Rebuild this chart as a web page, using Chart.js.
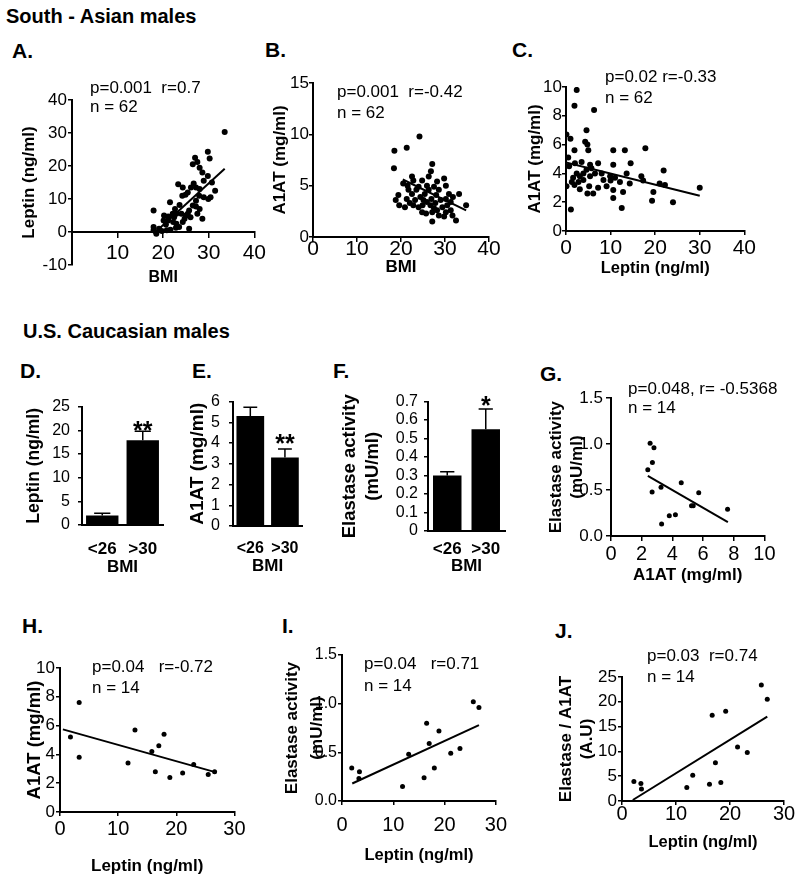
<!DOCTYPE html>
<html><head><meta charset="utf-8">
<script src="https://cdn.jsdelivr.net/npm/chart.js@4.4.1/dist/chart.umd.min.js"></script>
<style>
html,body{margin:0;padding:0;background:#fff;}
body{width:800px;height:882px;position:relative;overflow:hidden;font-family:'Liberation Sans',Arial,Helvetica,sans-serif;color:#000;}
canvas{position:absolute;}
.t{position:absolute;white-space:pre;line-height:1.15;}
</style></head>
<body>
<script>
// ---------------- DATA ----------------
// Panel A: South-Asian males, BMI vs Leptin (ng/ml)
const bmiA = [33.5,29.8,30.2,27.0,27.5,26.5,28.0,28.6,29.8,23.3,26.7,27.2,28.0,31.4,25.4,24.2,24.9,28.9,29.9,30.4,27.2,21.5,23.6,22.6,22.9,25.7,27.2,28.0,27.5,28.6,17.9,26.0,25.0,20.1,21.1,20.6,22.2,22.9,23.5,22.8,25.7,17.9,18.5,19.7,20.8,21.6,24.3,24.7,24.0,22.1,22.4,26.5,27.9,26.1,24.3,30.7,28.9,20.2,21.1,19.1,17.9,25.4];
const leptinA = [30.3,24.3,22.3,22.5,21.2,20.5,19.5,18.0,17.0,14.5,14.7,13.5,13.0,12.5,12.0,11.0,11.3,10.5,10.0,10.5,9.5,9.0,8.2,7.0,5.5,6.5,7.7,7.0,5.5,4.0,6.5,4.5,5.0,3.5,3.5,2.3,3.0,2.5,1.5,1.3,1.0,0.5,-0.5,0.3,0.5,0.7,3.0,4.0,5.5,5.5,4.5,8.0,11.0,13.5,13.5,15.0,15.5,5.0,4.7,1.0,1.5,5.5];
const trendA_x = [17.9, 33.5];
const trendA_y = [-0.5, 19.2];

// Panel B: BMI vs A1AT (mg/ml)
const bmiB = [18.4,18.5,21.3,24.2,18.8,19.6,27.1,26.8,29.8,27.1,32.5,34.8,22.5,22.8,20.5,21.5,24.8,25.9,24.0,23.5,22.5,21.3,22.0,23.2,24.4,25.4,26.3,27.5,28.6,28.0,26.9,25.9,24.9,24.0,26.7,27.8,29.0,30.2,30.9,33.2,31.3,29.4,28.2,27.1,30.2,31.3,28.6,25.7,22.8,20.9,24.8,29.8,31.7,26.3,28.2,30.2,21.7,19.4,25.1,27.5,30.5,31.8];
const a1atB = [6.7,8.4,8.7,9.8,3.6,3.1,7.1,6.4,5.7,1.5,1.6,3.1,5.9,5.5,5.2,5.0,5.5,5.0,4.9,4.6,4.2,3.7,3.3,3.6,3.9,4.2,4.6,4.9,4.6,4.1,3.7,3.4,3.1,2.9,3.1,3.3,3.6,3.7,4.2,4.2,3.4,2.9,2.6,2.4,2.4,2.6,2.1,2.3,3.1,2.9,2.4,2.0,2.1,5.9,5.4,5.0,4.6,4.1,3.6,2.8,3.1,3.9];
const trendB_x = [20.4, 34.8];
const trendB_y = [5.6, 2.6];

// Panel C: Leptin vs A1AT
const leptinC = [2.4,1.9,6.3,0.1,1.0,4.6,4.3,4.8,1.9,5.0,0.5,17.8,10.6,13.2,1.1,12.5,24.0,19.3,30.0,21.9,14.5,10.6,3.5,5.4,7.2,2.4,3.1,3.9,1.6,0.1,1.9,3.1,4.8,6.1,7.2,6.5,5.4,9.9,10.0,11.0,12.1,10.6,10.6,12.8,13.6,14.3,16.9,17.3,19.6,21.0,22.2,1.3,2.8,3.9,4.6,5.7,8.0,8.4,2.0,0.7,5.2,9.1];
const a1atC = [9.8,8.7,8.4,6.7,6.4,7.0,6.2,6.0,5.6,5.6,5.1,5.75,5.6,5.6,1.5,1.6,2.0,2.1,3.0,4.2,4.7,4.6,4.8,4.6,4.7,4.0,3.8,4.0,3.7,3.1,3.2,2.9,2.6,2.6,3.0,4.0,3.8,3.8,3.5,3.7,3.4,2.85,2.3,2.7,4.0,3.3,3.8,3.5,2.7,3.3,3.2,3.4,3.4,3.55,4.25,4.35,4.0,3.55,4.7,4.5,3.1,3.1];
const trendC_x = [0, 30];
const trendC_y = [4.76, 2.45];

// Panels D-F: U.S. Caucasian males, BMI groups
const bmiGroups = ['<26', '>30'];
const leptinMeans = [2.0, 17.9];
const leptinErr = [0.5, 1.9];
const leptinStars = ['', '**'];
const a1atMeans = [5.3, 3.3];
const a1atErr = [0.43, 0.41];
const a1atStars = ['', '**'];
const elastaseMeans = [0.30, 0.55];
const elastaseErr = [0.02, 0.11];
const elastaseStars = ['', '*'];

// Panel G: A1AT vs Elastase activity
const a1atG = [2.55,2.8,2.7,2.4,2.68,3.26,4.58,5.72,5.25,5.36,7.6,3.8,4.2,3.3];
const elastaseG = [1.01,0.96,0.80,0.72,0.48,0.53,0.58,0.47,0.33,0.33,0.29,0.22,0.23,0.13];
const trendG_x = [2.4, 7.62];
const trendG_y = [0.655, 0.15];

// Panel H: Leptin vs A1AT
const leptinH = [1.8,3.3,3.3,11.7,12.9,15.8,16.4,17.0,17.9,18.9,21.1,23.0,25.5,26.6];
const a1atH = [5.2,7.6,3.8,3.4,5.7,4.2,2.8,4.6,5.4,2.4,2.7,3.3,2.6,2.8];
const trendH_x = [0.5, 26.7];
const trendH_y = [5.74, 2.77];

// Panel I: Leptin vs Elastase activity
const leptinI = [1.9,3.4,3.3,11.8,13.0,16.0,16.5,17.0,18.0,18.9,21.2,23.0,25.6,26.7];
const elastaseI = [0.34,0.30,0.23,0.15,0.48,0.24,0.80,0.59,0.34,0.72,0.49,0.54,1.02,0.96];
const trendI_x = [2.0, 26.7];
const trendI_y = [0.18, 0.78];

// Panel J: Leptin vs Elastase / A1AT
const leptinJ = [2.2,3.5,3.6,12.0,13.1,16.2,16.7,17.3,18.3,19.2,21.4,23.2,25.8,26.9];
const ratioJ = [3.95,3.55,2.4,2.7,5.2,3.4,17.3,7.7,3.75,18.1,10.9,9.8,23.4,20.5];
const trendJ_x = [2.0, 26.9];
const trendJ_y = [0.2, 17.0];

// ---------------- HELPERS ----------------
const SANS = "'Liberation Sans', Arial, Helvetica, sans-serif";
const NARROW = "'Liberation Sans Narrow', 'Arial Narrow', 'Liberation Sans', Arial, sans-serif";
const BLACK = '#000';

function txt(s, x, baseline, size, bold) {
  const d = document.createElement('div');
  d.className = 't';
  d.textContent = s;
  d.style.left = x + 'px';
  d.style.top = (baseline - 0.92 * size) + 'px';
  d.style.fontSize = size + 'px';
  if (bold) d.style.fontWeight = 'bold';
  document.body.appendChild(d);
}
function pts(xs, ys) { return xs.map((x, i) => ({x: x, y: ys[i]})); }
function gridOpts(tl) {
  return tl > 0 ? {display: true, drawOnChartArea: false, drawTicks: true, tickLength: tl, color: BLACK, lineWidth: 1.5}
                : {display: false, drawTicks: false};
}
const borderOpts = {display: true, color: BLACK, width: 2};
function font(family, size, weight, lh) { return {family: family, size: size, weight: weight || 'normal', lineHeight: lh || 1.2}; }

function linScale(min, max, step, tickFont, tl, pad, title, titleFont, cb, extra) {
  const s = {
    type: 'linear', min: min, max: max, grid: gridOpts(tl), border: borderOpts,
    ticks: {stepSize: step, font: tickFont, color: BLACK, padding: pad, autoSkip: false, maxRotation: 0},
    title: {display: true, text: title, font: titleFont, color: BLACK, padding: 0}
  };
  if (cb) s.ticks.callback = cb;
  return Object.assign(s, extra || {});
}
function scatterSets(xs, ys, tx, ty, r) {
  return [
    {data: pts(tx, ty), showLine: true, borderColor: BLACK, borderWidth: 2, pointRadius: 0, backgroundColor: BLACK},
    {data: pts(xs, ys), pointRadius: r, pointHoverRadius: r, backgroundColor: BLACK, borderWidth: 0, showLine: false}
  ];
}

const errPlugin = {
  id: 'errbars',
  afterDatasetsDraw(chart, args, opts) {
    const meta = chart.getDatasetMeta(0);
    const ys = chart.scales.y;
    const ctx = chart.ctx;
    const vals = chart.data.datasets[0].data;
    ctx.save();
    ctx.strokeStyle = BLACK; ctx.fillStyle = BLACK; ctx.lineWidth = 1.5;
    meta.data.forEach((bar, i) => {
      const yTop = ys.getPixelForValue(vals[i] + opts.err[i]);
      const w = bar.width * 0.5;
      ctx.beginPath();
      ctx.moveTo(bar.x, bar.y); ctx.lineTo(bar.x, yTop);
      ctx.moveTo(bar.x - w / 2, yTop); ctx.lineTo(bar.x + w / 2, yTop);
      ctx.stroke();
      if (opts.stars[i]) {
        ctx.font = 'bold 25px ' + SANS;
        ctx.textAlign = 'center'; ctx.textBaseline = 'alphabetic';
        ctx.fillText(opts.stars[i], bar.x, yTop + opts.starDy);
      }
    });
    ctx.restore();
  }
};

function panel(cfg) {
  const c = document.createElement('canvas');
  const w = cfg.right - cfg.left, h = cfg.bottom - cfg.top;
  c.width = w; c.height = h;
  c.style.left = cfg.left + 'px'; c.style.top = cfg.top + 'px';
  c.style.width = w + 'px'; c.style.height = h + 'px';
  document.body.appendChild(c);
  const W = cfg.x0 - cfg.left;
  const H = cfg.xH;
  const padTop = cfg.yT - cfg.top;
  const padRight = cfg.right - cfg.x1;
  const padBottom = cfg.bottom - cfg.yB - (cfg.xFloat ? 0 : H);
  const xs = Object.assign({}, cfg.x, {afterFit(s) { s.height = H; }});
  const ys = Object.assign({}, cfg.y, {afterFit(s) { s.width = W; }});
  const plugins = Object.assign({legend: {display: false}, tooltip: {enabled: false}}, cfg.pluginOpts || {});
  return new Chart(c, {
    type: cfg.type, data: cfg.data, plugins: cfg.plugins || [],
    options: {
      responsive: false, maintainAspectRatio: false, animation: false, devicePixelRatio: 1, events: [],
      layout: {padding: {left: 0, top: padTop, right: padRight, bottom: padBottom}},
      plugins: plugins,
      scales: {x: xs, y: ys}
    }
  });
}

// ---------------- TEXT ----------------
txt('South - Asian males', 6, 23, 20, true);
txt('U.S. Caucasian males', 23, 338, 20, true);
txt('A.', 12, 58, 21, true);
txt('B.', 265, 57, 21, true);
txt('C.', 512, 57, 21, true);
txt('D.', 20, 378, 21, true);
txt('E.', 192, 378, 21, true);
txt('F.', 333, 378, 21, true);
txt('G.', 540, 381, 21, true);
txt('H.', 22, 633, 21, true);
txt('I.', 282, 633, 21, true);
txt('J.', 555, 638, 21, true);

// ---------------- CHARTS ----------------
const fmt1 = v => Number(v).toFixed(1);

// A
panel({
  type: 'scatter', left: 19, top: 88, right: 272, bottom: 289,
  x0: 72, x1: 258, yT: 100, yB: 265, xH: 55, xFloat: true,
  data: {datasets: scatterSets(bmiA, leptinA, trendA_x, trendA_y, 3)},
  x: linScale(0, 40, 10, font(NARROW, 21, 'normal', 1), 5, 6, 'BMI', font(SANS, 16, 'bold'), v => v === 0 ? '' : v, {position: {y: 0}}),
  y: linScale(-10, 40, 10, font(SANS, 17), 4, 1, 'Leptin (ng/ml)', font(SANS, 17, 'bold'), null)
});

// B
panel({
  type: 'scatter', left: 270, top: 71, right: 503, bottom: 280,
  x0: 313, x1: 489, yT: 83, yB: 237, xH: 41,
  data: {datasets: scatterSets(bmiB, a1atB, trendB_x, trendB_y, 3)},
  x: linScale(0, 40, 10, font(NARROW, 21, 'normal', 1), 5, -3.5, 'BMI', font(SANS, 17, 'bold'), null),
  y: linScale(0, 15, 5, font(SANS, 17), 4, 0, 'A1AT (mg/ml)', font(SANS, 17, 'bold'), null)
});

// C
panel({
  type: 'scatter', left: 525, top: 75, right: 759, bottom: 280,
  x0: 566, x1: 745, yT: 87, yB: 231, xH: 47,
  data: {datasets: scatterSets(leptinC, a1atC, trendC_x, trendC_y, 3)},
  x: linScale(0, 40, 10, font(NARROW, 21, 'normal', 1), 4, 3, 'Leptin (ng/ml)', font(SANS, 16.5, 'bold'), null),
  y: linScale(0, 10, 2, font(SANS, 17), 4, 0, 'A1AT (mg/ml)', font(SANS, 17, 'bold'), null)
});

// bar helper
function barPanel(cfg) {
  return panel({
    type: 'bar', left: cfg.left, top: cfg.top, right: cfg.right, bottom: cfg.bottom,
    x0: cfg.x0, x1: cfg.x1, yT: cfg.yT, yB: cfg.yB, xH: cfg.xH,
    data: {labels: bmiGroups, datasets: [{data: cfg.means, backgroundColor: BLACK, borderWidth: 0, categoryPercentage: cfg.cp, barPercentage: 1}]},
    plugins: [errPlugin],
    pluginOpts: {errbars: {err: cfg.err, stars: cfg.stars, starDy: cfg.starDy}},
    x: {type: 'category', grid: {display: false, drawTicks: false}, border: borderOpts,
        ticks: {font: font(SANS, cfg.xFont, 'bold', 1), color: BLACK, padding: cfg.xPad, maxRotation: 0, autoSkip: false},
        title: {display: true, text: 'BMI', font: font(SANS, 17, 'bold'), color: BLACK, padding: 0}},
    y: linScale(0, cfg.max, cfg.step, font(SANS, 16), 4, cfg.yPad, cfg.title, cfg.titleFont, cfg.cb)
  });
}

// D
barPanel({left: 24, top: 389, right: 177, bottom: 580, x0: 82, x1: 163, yT: 401, yB: 525, xH: 53,
  means: leptinMeans, err: leptinErr, stars: leptinStars, starDy: 7.6, cp: 0.8, xPad: 15.5, xFont: 17,
  max: 25, step: 5, yPad: 8, title: 'Leptin (ng/ml)', titleFont: font(SANS, 17.5, 'bold'), cb: null});
// E
barPanel({left: 186, top: 383, right: 317, bottom: 579, x0: 233, x1: 303, yT: 395, yB: 526, xH: 51,
  means: a1atMeans, err: a1atErr, stars: a1atStars, starDy: 3.4, cp: 0.8, xPad: 15, xFont: 16,
  max: 6, step: 1, yPad: 9, title: 'A1AT (mg/ml)', titleFont: font(SANS, 19, 'bold'), cb: null});
// F
barPanel({left: 338, top: 386, right: 519, bottom: 579, x0: 428, x1: 505, yT: 398, yB: 531, xH: 46,
  means: elastaseMeans, err: elastaseErr, stars: elastaseStars, starDy: 4.8, cp: 0.74, xPad: 9.5, xFont: 17,
  max: 0.7, step: 0.1, yPad: 6, title: ['Elastase activity', '(mU/ml)'], titleFont: font(SANS, 18.5, 'bold', '23px'),
  cb: v => (Math.abs(v) < 1e-9 ? '0' : Number(v).toFixed(1))});

// G
panel({
  type: 'scatter', left: 546, top: 385, right: 779, bottom: 588,
  x0: 611, x1: 765, yT: 397, yB: 536, xH: 50,
  data: {datasets: scatterSets(a1atG, elastaseG, trendG_x, trendG_y, 2.5)},
  x: linScale(0, 10, 2, font(NARROW, 20, 'normal', 1), 5, 3.5, 'A1AT (mg/ml)', font(SANS, 17, 'bold'), null),
  y: linScale(0, 1.5, 0.5, font(NARROW, 17), 5, 3, ['Elastase activity', '(mU/ml)'], font(SANS, 17, 'bold', '21px'), fmt1)
});

// H
panel({
  type: 'scatter', left: 24, top: 656, right: 249, bottom: 879,
  x0: 60, x1: 235, yT: 668, yB: 812, xH: 65,
  data: {datasets: scatterSets(leptinH, a1atH, trendH_x, trendH_y, 2.5)},
  x: linScale(0, 30, 10, font(SANS, 20, 'normal', 1), 4, 3.5, 'Leptin (ng/ml)', font(SANS, 17, 'bold'), null),
  y: linScale(0, 10, 2, font(SANS, 17), 4, 1, 'A1AT (mg/ml)', font(SANS, 18.5, 'bold'), null)
});

// I
panel({
  type: 'scatter', left: 280, top: 643, right: 517, bottom: 867,
  x0: 342, x1: 503, yT: 655, yB: 801, xH: 64,
  data: {datasets: scatterSets(leptinI, elastaseI, trendI_x, trendI_y, 2.5)},
  x: linScale(0, 30, 10, font(SANS, 20, 'normal', 1), 4, 10, 'Leptin (ng/ml)', font(SANS, 16.5, 'bold'), null),
  y: linScale(0, 1.5, 0.5, font(SANS, 16), 4, 1, ['Elastase activity', '(mU/ml)'], font(SANS, 17, 'bold', '25px'), fmt1)
});

// J
panel({
  type: 'scatter', left: 556, top: 665, right: 798, bottom: 854,
  x0: 622, x1: 784, yT: 677, yB: 801, xH: 51,
  data: {datasets: scatterSets(leptinJ, ratioJ, trendJ_x, trendJ_y, 2.5)},
  x: linScale(0, 30, 10, font(NARROW, 20, 'normal', 1), 4, -0.5, 'Leptin (ng/ml)', font(SANS, 16.5, 'bold'), null),
  y: linScale(0, 25, 5, font(NARROW, 17), 4, 1, ['Elastase / A1AT', '(A.U)'], font(SANS, 17, 'bold', '21px'), null)
});

// annotations
txt('p=0.001  r=0.7', 90, 94, 17);
txt('n = 62', 90, 113, 17);
txt('p=0.001  r=-0.42', 337, 98, 17);
txt('n = 62', 337, 119, 17);
txt('p=0.02 r=-0.33', 605, 83, 17);
txt('n = 62', 605, 104, 17);
txt('p=0.048, r= -0.5368', 628, 395, 17);
txt('n = 14', 628, 414, 17);
txt('p=0.04   r=-0.72', 92, 673, 17);
txt('n = 14', 92, 694, 17);
txt('p=0.04   r=0.71', 364, 670, 17);
txt('n = 14', 364, 692, 17);
txt('p=0.03  r=0.74', 647, 662, 17);
txt('n = 14', 647, 683, 17);
</script>
</body></html>
